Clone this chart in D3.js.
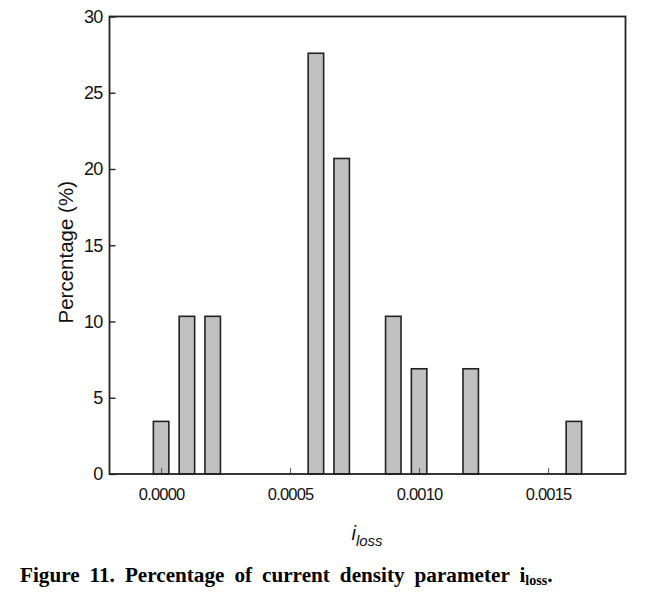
<!DOCTYPE html>
<html>
<head>
<meta charset="utf-8">
<script src="https://cdn.jsdelivr.net/npm/d3@7"></script>
<style>
  body { margin: 0; background: #fff; }
  svg { display: block; }
</style>
</head>
<body>
<svg width="645" height="592"></svg>
<script>
// iloss bins and share of cases (%)
const ilossValues = [0.0000, 0.0001, 0.0002, 0.0006, 0.0007, 0.0009, 0.0010, 0.0012, 0.0016]
const percentages = [3.45, 10.34, 10.34, 27.59, 20.69, 10.34, 6.90, 6.90, 3.45]
const xTicks = [0.0000, 0.0005, 0.0010, 0.0015]
const yTicks = [0, 5, 10, 15, 20, 25, 30]

const data = ilossValues.map((v, i) => ({ x: v, y: percentages[i] }))

const svg = d3.select('svg')
const plotLeft = 109.5, plotRight = 625.5, plotTop = 16.5, plotBottom = 474
const barWidth = 0.00006

const x = d3.scaleLinear().domain([-0.0002, 0.0018]).range([plotLeft, plotRight])
const y = d3.scaleLinear().domain([0, 30]).range([plotBottom, plotTop])

// bars
svg.selectAll('rect.bar')
  .data(data)
  .enter()
  .append('rect')
  .attr('class', 'bar')
  .attr('x', d => x(d.x - barWidth / 2))
  .attr('width', d => x(d.x + barWidth / 2) - x(d.x - barWidth / 2))
  .attr('y', d => y(d.y))
  .attr('height', d => y(0) - y(d.y))
  .style('fill', '#c0c0c0')
  .style('stroke', '#222')
  .style('stroke-width', 1.6)

// axes with inward ticks
const tickFont = (g, size) => g.selectAll('text')
  .style('font-family', 'Liberation Sans, Arial, sans-serif')
  .style('font-size', size)
  .style('letter-spacing', '-0.8px')
  .style('fill', '#111')

const xAxis = svg.append('g')
  .attr('transform', `translate(0,${plotBottom})`)
  .call(d3.axisBottom(x).tickValues(xTicks).tickFormat(d3.format('.4f'))
    .tickSizeInner(-6).tickSizeOuter(0).tickPadding(14))
xAxis.select('.domain').remove()
xAxis.selectAll('line').style('stroke', '#555')
tickFont(xAxis, '16.5px')

const yAxis = svg.append('g')
  .attr('transform', `translate(${plotLeft},0)`)
  .call(d3.axisLeft(y).tickValues(yTicks).tickSizeInner(-6).tickSizeOuter(0).tickPadding(7))
yAxis.select('.domain').remove()
yAxis.selectAll('line').style('stroke', '#222').style('stroke-width', 1.4)
tickFont(yAxis, '18px')

// frame
svg.append('rect')
  .attr('x', plotLeft).attr('y', plotTop)
  .attr('width', plotRight - plotLeft).attr('height', plotBottom - plotTop)
  .style('fill', 'none')
  .style('stroke', '#222')
  .style('stroke-width', 1.8)

// axis titles
svg.append('text')
  .attr('transform', `translate(73,${(plotTop + plotBottom) / 2 + 7}) rotate(-90)`)
  .attr('text-anchor', 'middle')
  .style('font-family', 'Liberation Sans, Arial, sans-serif')
  .style('font-size', '20.5px')
  .style('fill', '#111')
  .text('Percentage (%)')

const xTitle = svg.append('text')
  .attr('x', 367).attr('y', 540)
  .attr('text-anchor', 'middle')
  .style('font-family', 'Liberation Sans, Arial, sans-serif')
  .style('font-style', 'italic')
  .style('font-size', '20px')
  .style('fill', '#111')
xTitle.append('tspan').text('i')
xTitle.append('tspan').attr('dy', 6).style('font-size', '15px').text('loss')

// caption: bold serif, ~10px word gaps, spanning x 20..553
const capSize = 21
const caption = svg.append('text')
  .style('font-family', 'Liberation Serif, Times New Roman, serif')
  .style('font-weight', 'bold')
  .style('font-size', capSize + 'px')
  .style('fill', '#000')
caption.append('tspan').text('Figure 11. Percentage of current density parameter i')
caption.append('tspan').attr('dy', 3).style('font-size', '14px').text('loss')
caption.append('tspan').attr('dy', -3).text('.')

const gaps = 7, gapPx = 10, capWidth = 533
const space = 0.25 * capSize
const natural = caption.node().getComputedTextLength()
const squeeze = (capWidth - gaps * gapPx) / (natural - gaps * space)
caption
  .attr('transform', `translate(20,582) scale(${squeeze},1)`)
  .style('word-spacing', (gapPx / squeeze - space) + 'px')
</script>
</body>
</html>
